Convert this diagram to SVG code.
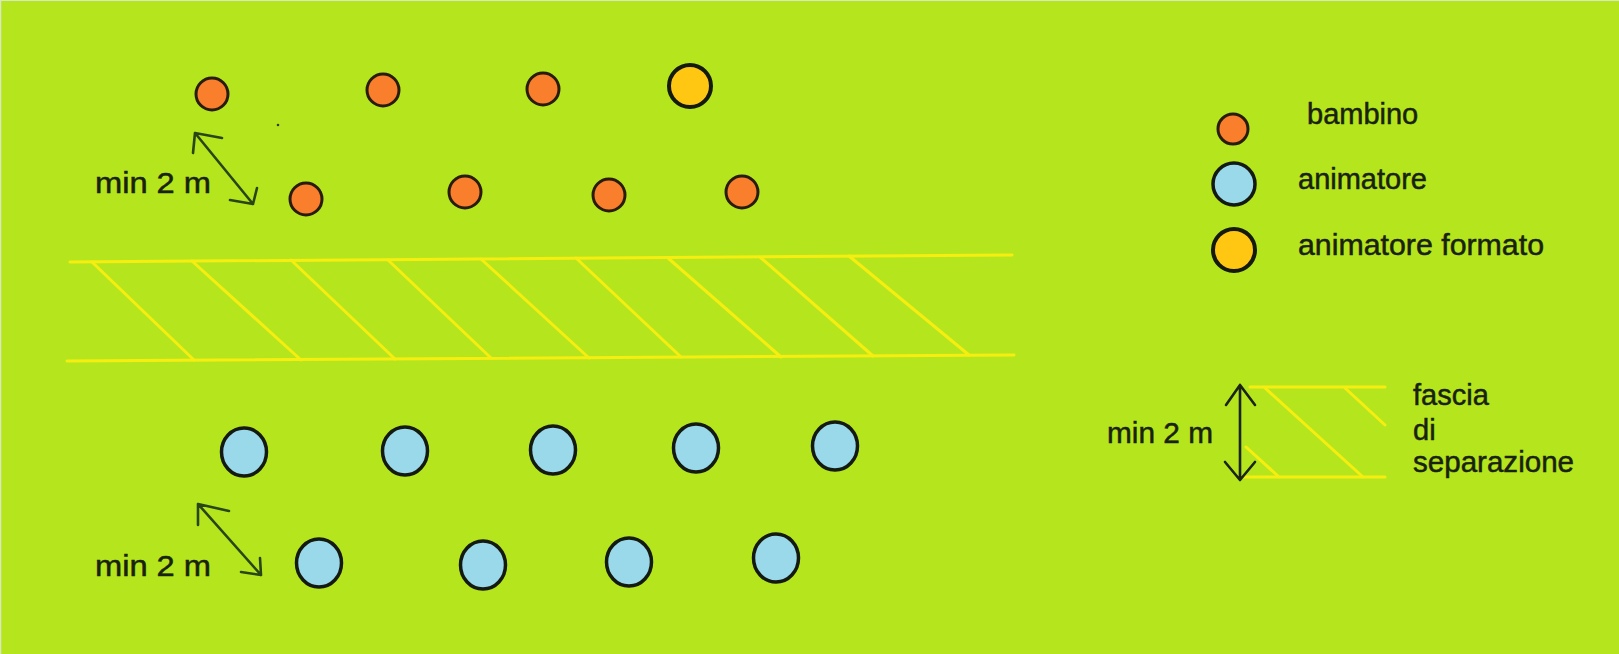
<svg xmlns="http://www.w3.org/2000/svg" width="1619" height="654" viewBox="0 0 1619 654">
<defs>
<style>
.bg{fill:#b5e61d}
.kid{fill:#f97f2c;stroke:#2a1c0c;stroke-width:3}
.ani{fill:#99d9ea;stroke:#141a10;stroke-width:3.5}
.fmt{fill:#ffc712;stroke:#141a10;stroke-width:4}
.band{stroke:#f6ee10;stroke-width:3;fill:none;stroke-linecap:round}
.arr{stroke:#2a4514;stroke-width:2.6;fill:none;stroke-linecap:round;stroke-linejoin:round}
.arrk{stroke:#1a240e;stroke-width:2.6;fill:none;stroke-linecap:round;stroke-linejoin:round}
.t{font-family:"Liberation Sans",Arial,sans-serif;font-size:29px;fill:#18220e;stroke:#18220e;stroke-width:0.5}
</style>
</defs>
<rect class="bg" x="0" y="0" width="1619" height="654"/>
<line x1="0.5" y1="0" x2="0.5" y2="654" stroke="#d8e8c0" stroke-width="1.5"/>
<line x1="0" y1="0.5" x2="1619" y2="0.5" stroke="#d8e8c0" stroke-width="1"/>

<g id="separation-band">
<line class="band" x1="70" y1="262" x2="1012" y2="255"/>
<line class="band" x1="67" y1="361" x2="1014" y2="355"/>
<line class="band" x1="92" y1="262" x2="194" y2="360"/>
<line class="band" x1="192" y1="261" x2="301" y2="360"/>
<line class="band" x1="291" y1="260" x2="395" y2="359"/>
<line class="band" x1="388" y1="260" x2="491" y2="358"/>
<line class="band" x1="481" y1="259" x2="589" y2="358"/>
<line class="band" x1="576" y1="258" x2="681" y2="357"/>
<line class="band" x1="668" y1="258" x2="781" y2="357"/>
<line class="band" x1="760" y1="257" x2="873" y2="356"/>
<line class="band" x1="849" y1="256" x2="969" y2="355"/>
</g>

<g id="children-row1">
<circle class="kid" cx="212" cy="94" r="16"/>
<circle class="kid" cx="383" cy="90" r="16"/>
<circle class="kid" cx="543" cy="89" r="16"/>
<circle class="fmt" cx="690" cy="86" r="21"/>
</g>
<g id="children-row2">
<circle class="kid" cx="306" cy="199" r="16"/>
<circle class="kid" cx="465" cy="192" r="16"/>
<circle class="kid" cx="609" cy="195" r="16"/>
<circle class="kid" cx="742" cy="192" r="16"/>
</g>
<circle cx="278" cy="125" r="1.3" fill="#3a3a20"/>

<g id="animators-row1">
<ellipse class="ani" cx="244" cy="452" rx="22.5" ry="24"/>
<ellipse class="ani" cx="405" cy="451" rx="22.5" ry="24"/>
<ellipse class="ani" cx="553" cy="450" rx="22.5" ry="24"/>
<ellipse class="ani" cx="696" cy="448" rx="22.5" ry="24"/>
<ellipse class="ani" cx="835" cy="446" rx="22.5" ry="24"/>
</g>
<g id="animators-row2">
<ellipse class="ani" cx="319" cy="563" rx="22.5" ry="24"/>
<ellipse class="ani" cx="483" cy="565" rx="22.5" ry="24"/>
<ellipse class="ani" cx="629" cy="562" rx="22.5" ry="24"/>
<ellipse class="ani" cx="776" cy="558" rx="22.5" ry="24"/>
</g>

<g id="connectors">
<path class="arr" d="M195 133 L253 204 M195 133 L193 153 M195 133 L222 138 M253 204 L230 200 M253 204 L257 188"/>
<path class="arr" d="M198 504 L261 575 M198 504 L198 525 M198 504 L229 511 M261 575 L241 572 M261 575 L260 558"/>
</g>
<text class="t" x="95" y="193" textLength="116" lengthAdjust="spacingAndGlyphs">min 2 m</text>
<text class="t" x="95" y="576" textLength="116" lengthAdjust="spacingAndGlyphs">min 2 m</text>

<g id="legend">
<circle class="kid" cx="1233" cy="129" r="15"/>
<text class="t" x="1307" y="124">bambino</text>
<circle class="ani" cx="1234" cy="184" r="21"/>
<text class="t" x="1298" y="189">animatore</text>
<circle class="fmt" cx="1234" cy="250" r="21"/>
<text class="t" x="1298" y="255" textLength="246" lengthAdjust="spacingAndGlyphs">animatore formato</text>
<g id="legend-band">
<line class="band" x1="1250" y1="387" x2="1385" y2="387"/>
<line class="band" x1="1243" y1="477" x2="1385" y2="477"/>
<line class="band" x1="1265" y1="388" x2="1363" y2="477"/>
<line class="band" x1="1345" y1="388" x2="1385" y2="425"/>
<line class="band" x1="1246" y1="447" x2="1279" y2="477"/>
</g>
<path class="arrk" d="M1240 385 L1240 480 M1240 385 L1226 405 M1240 385 L1255 405 M1240 480 L1225 462 M1240 480 L1255 462"/>
<text class="t" x="1107" y="443" textLength="106" lengthAdjust="spacingAndGlyphs">min 2 m</text>
<text class="t" x="1413" y="405">fascia</text>
<text class="t" x="1413" y="440">di</text>
<text class="t" x="1413" y="472" textLength="161" lengthAdjust="spacingAndGlyphs">separazione</text>
</g>
</svg>
